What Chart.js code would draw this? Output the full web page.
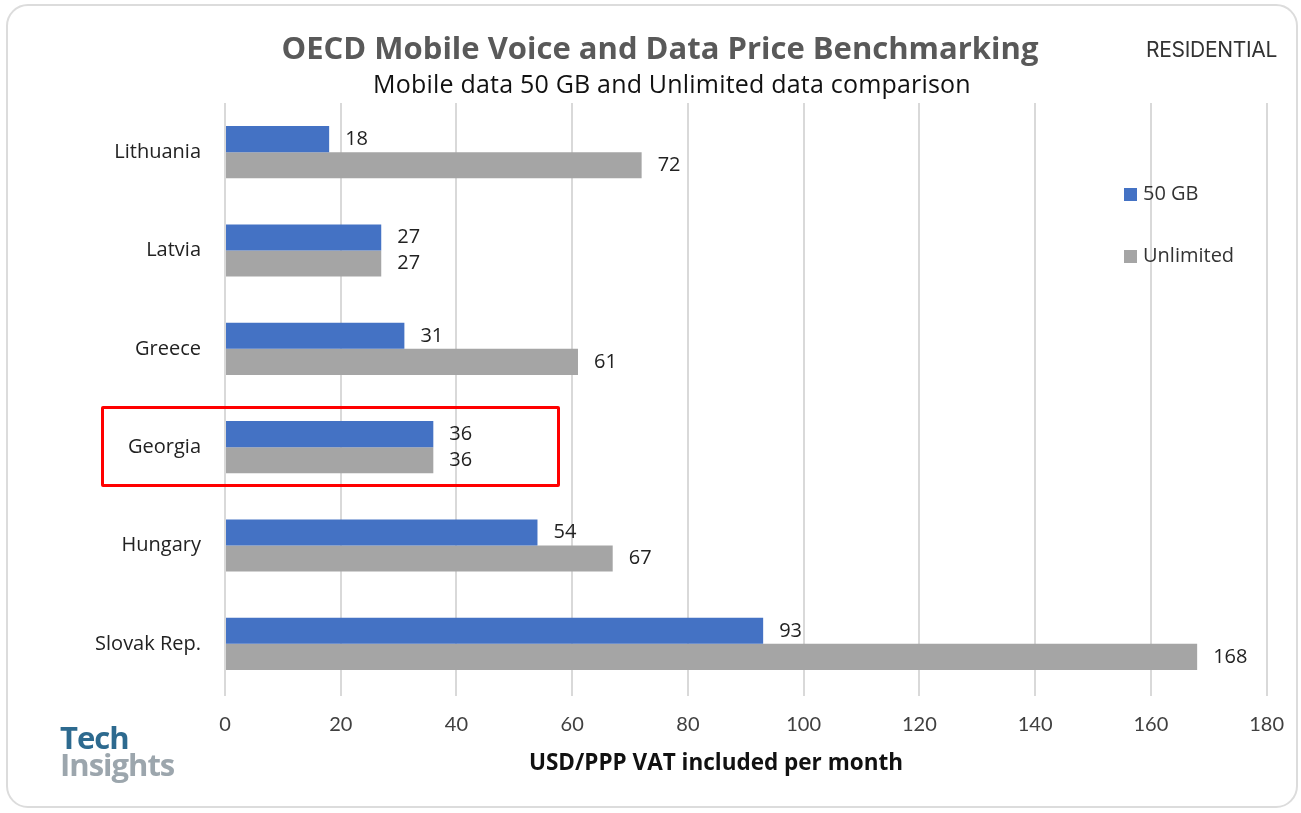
<!DOCTYPE html>
<html>
<head>
<meta charset="utf-8">
<script src="https://cdn.jsdelivr.net/npm/chart.js@4/dist/chart.umd.min.js"></script>
<style>
    html, body { margin: 0; padding: 0; background: #fff; }
    #wrap { position: relative; width: 1301px; height: 813px; overflow: hidden; }
    #card {
        position: absolute; left: 6px; top: 4px; width: 1292px; height: 804px;
        border: 2px solid #dcdcdc; border-radius: 22px; box-sizing: border-box;
    }
    canvas { position: absolute; left: 0; top: 0; }
    .txt { position: absolute; white-space: nowrap; }
    #title { left: 0; width: 1320px; top: 26px; text-align: center; font: bold 31px "Open Sans"; color: #595959; }
    #subtitle { left: 0; width: 1344px; top: 66px; text-align: center; font: 25px "Open Sans"; color: #111; letter-spacing: 0.2px; }
    #resid { left: 1146px; top: 37px; font: 21px Inter; color: #333; letter-spacing: -0.3px; }
    #xtitle { left: 0; width: 1432px; top: 746px; text-align: center; font: bold 22.5px "Open Sans"; color: #111; }
    #legend { position: absolute; left: 1124px; top: 180px; font: 20px "Open Sans"; color: #333; }
    .item { height: 26px; line-height: 26px; margin-bottom: 36px; }
    .sw { display: inline-block; width: 13px; height: 13px; margin-right: 6px; vertical-align: -1px; }
    #redbox { position: absolute; left: 101px; top: 406px; width: 459px; height: 81px; border: 3px solid #f00; box-sizing: border-box; border-radius: 2px; }
    #logo { left: 60px; top: 724px; font: bold 31px "Open Sans"; line-height: 27px; letter-spacing: -1px; }
    #logo .a { color: #2d6a8f; }
    #logo .b { color: #9ca6ad; }
</style>
</head>
<body>
<div id="wrap">
    <div id="card"></div>
    <canvas id="chart" width="1301" height="813"></canvas>
    <div class="txt" id="title">OECD Mobile Voice and Data Price Benchmarking</div>
    <div class="txt" id="subtitle">Mobile data 50 GB and Unlimited data comparison</div>
    <div class="txt" id="resid">RESIDENTIAL</div>
    <div class="txt" id="xtitle">USD/PPP VAT included per month</div>
    <div id="legend"></div>
    <div id="redbox"></div>
    <div class="txt" id="logo"><span class="a">Tech</span><br><span class="b">Insights</span></div>
</div>
<script>
const countries = ["Lithuania", "Latvia", "Greece", "Georgia", "Hungary", "Slovak Rep."];
const seriesNames = ["50 GB", "Unlimited"];
const data50GB = [18, 27, 31, 36, 54, 93];
const dataUnlimited = [72, 27, 61, 36, 67, 168];
const xTicks = [0, 20, 40, 60, 80, 100, 120, 140, 160, 180];

const colors = ["#4472c4", "#a5a5a5"];

// value labels to the right of each bar
const valueLabels = {
    id: "valueLabels",
    afterDatasetsDraw(chart) {
        const ctx = chart.ctx;
        ctx.save();
        ctx.font = "20px 'Open Sans'";
        ctx.fillStyle = "#222";
        ctx.textBaseline = "middle";
        chart.data.datasets.forEach((ds, i) => {
            chart.getDatasetMeta(i).data.forEach((bar, j) => {
                ctx.fillText(ds.data[j], bar.x + 16, bar.y);
            });
        });
        ctx.restore();
    }
};

new Chart(document.getElementById("chart").getContext("2d"), {
    type: "bar",
    data: {
        labels: countries,
        datasets: [
            { label: seriesNames[0], data: data50GB, backgroundColor: colors[0] },
            { label: seriesNames[1], data: dataUnlimited, backgroundColor: colors[1] }
        ]
    },
    options: {
        indexAxis: "y",
        responsive: false,
        animation: false,
        layout: { padding: { left: 0, top: 103, right: 34, bottom: 0 } },
        datasets: { bar: { categoryPercentage: 0.53, barPercentage: 1 } },
        scales: {
            x: {
                min: 0,
                max: 180,
                afterBuildTicks: (scale) => { scale.ticks = xTicks.map(v => ({ value: v })); },
                afterFit: (scale) => { scale.height = 120; },
                grid: { color: "#d9d9d9", lineWidth: 2, tickLength: 3 },
                border: { display: false },
                ticks: { font: { family: "Lato", size: 20 }, color: "#404040", padding: 17, maxRotation: 0 }
            },
            y: {
                afterFit: (scale) => { scale.width = 225; },
                grid: { display: false },
                border: { display: false },
                ticks: { font: { family: "Open Sans", size: 20 }, color: "#222", padding: 16 }
            }
        },
        plugins: {
            legend: { display: false },
            tooltip: { enabled: false }
        }
    },
    plugins: [valueLabels]
});

document.getElementById("legend").innerHTML = seriesNames.map((name, i) =>
    `<div class="item"><span class="sw" style="background:${colors[i]}"></span>${name}</div>`
).join("");
</script>
</body>
</html>
